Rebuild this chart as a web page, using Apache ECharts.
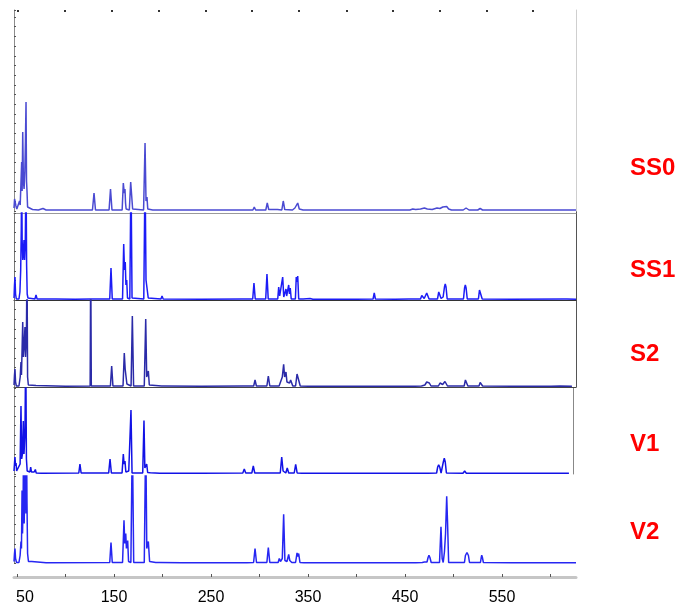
<!DOCTYPE html>
<html>
<head>
<meta charset="utf-8">
<script src="https://cdn.jsdelivr.net/npm/echarts@6/dist/echarts.min.js"></script>
<style>
html, body { margin: 0; padding: 0; background: #ffffff; }
#chart { width: 679px; height: 608px; }
</style>
</head>
<body>
<div id="chart"></div>
<script>
// Sample names shown at the right of each trace
const sampleNames = ['SS0', 'SS1', 'S2', 'V1', 'V2'];

// Retention axis ticks and labels
const xTickValues = [50, 100, 150, 200, 250, 300, 350, 400, 450, 500, 550, 600];
const xLabelValues = [50, 150, 250, 350, 450, 550];
// Tick dots along the top of the first trace
const topTickValues = [51.0, 99.5, 147.9, 196.4, 244.8, 292.3, 340.7, 390.2, 437.6, 486.1, 534.5, 581.9];

// Chromatogram traces: [retention, signal]
const ss0Trace = [
  [46.9, 3], [47.5, 12], [47.9, 14], [48.9, 5], [49.8, 2], [51.5, 2], [52.6, 10], [53.3, 6],
  [54.0, 26], [54.8, 49], [55.3, 20], [55.9, 79], [56.6, 30], [57.3, 22], [58.1, 40], [58.7, 70],
  [59.3, 109], [59.8, 30], [60.3, 20], [60.9, 4], [62.5, 2], [66, 1.5], [72, 1], [76.8, 2.5],
  [80, 1], [92, 1], [110, 1], [127.8, 1], [129.4, 18], [130.9, 1], [144.9, 1], [146.4, 22],
  [147.9, 1], [158.4, 1], [159.6, 28], [160.6, 18], [161.3, 22], [161.9, 8], [162.5, 2], [165.8, 1],
  [167.2, 29], [168.2, 28], [169.2, 2], [180.5, 1], [182.0, 68], [183.0, 10], [184.0, 14], [184.8, 2],
  [190, 1], [199.5, 1], [200.8, 2.5], [202, 1], [216, 1], [218, 2], [220, 1], [250, 1],
  [283.5, 1], [285.0, 2], [286.5, 1], [293.2, 1], [294.6, 4], [296, 1], [306.5, 1], [308.0, 8],
  [309.5, 1.5], [315.5, 1.5], [317.0, 3], [318.5, 1.5], [323, 1], [324.5, 10], [326, 1.5], [334, 1],
  [336.5, 3], [339.4, 8], [341, 2], [345, 1], [380, 1], [420, 1], [455, 1], [458, 2],
  [461, 1.5], [466, 2], [470, 3], [473, 2], [478, 1.5], [483, 3], [486, 2.5], [489, 4],
  [491, 3.5], [493, 4.5], [495, 2], [498, 1], [510, 1], [513, 3], [516, 1], [525, 1],
  [527.5, 2.5], [530, 1], [560, 1], [600, 1], [626.3, 1]
];

const ss1Trace = [
  [46.9, 2], [47.4, 15], [47.9, 23], [48.5, 6], [49.3, 1], [52, 1], [53.0, 8], [53.8, 30],
  [54.4, 70], [54.8, 130], [55.3, 60], [55.9, 40], [56.5, 45], [57.2, 60], [57.8, 40], [58.5, 55],
  [59.3, 130], [59.9, 35], [60.5, 6], [61.3, 2], [63, 1], [68.5, 1], [69.6, 5], [70.7, 1],
  [90, 1], [110, 0.8], [126, 1], [145.6, 1], [146.9, 32], [148.2, 1], [158.8, 1], [160.0, 56],
  [160.8, 30], [161.6, 38], [162.3, 15], [163.1, 20], [163.9, 2], [166.3, 1], [167.5, 130], [168.6, 2],
  [180.7, 1], [182.0, 130], [183.0, 20], [184.3, 22], [185.3, 2], [198.4, 1], [199.5, 4], [200.7, 1],
  [240, 0.8], [282, 1], [283.0, 2], [284, 1], [293, 1], [294.3, 17], [295.6, 1], [306.4, 1],
  [307.7, 26], [309, 1], [318.8, 1], [319.8, 13], [320.8, 4], [322.8, 5], [323.9, 23], [325, 3],
  [326.4, 2], [327.3, 11], [328.0, 4], [330.1, 15], [330.9, 6], [331.7, 12], [332.7, 1], [337.0, 1],
  [337.9, 23], [338.6, 18], [339.4, 24], [340.4, 1], [345, 1], [352.1, 1.5], [355, 0.8], [400, 0.8],
  [417.1, 1], [418.3, 7], [419.5, 1], [440, 0.8], [454, 1], [455.2, 2], [456.2, 1], [457.0, 2],
  [458, 1], [466, 1], [467.3, 4.5], [467.8, 5.7], [468.4, 4.5], [469.8, 1.5], [471.3, 3], [472.4, 7],
  [473.0, 8.5], [473.6, 7], [474.8, 1], [483.5, 1], [484.8, 8], [485.4, 9.5], [486.0, 8], [487.2, 1.5],
  [489.3, 3], [490.7, 13], [491.5, 16], [492.3, 13], [493.5, 1], [510.3, 1], [511.4, 12], [512.2, 15],
  [513.0, 12], [514.2, 1], [525.7, 1], [526.8, 10], [527.6, 12], [528.4, 10], [529.6, 1], [560, 0.8],
  [613.8, 1], [615.3, 2], [616.8, 1], [626.3, 0.8]
];

const s2Trace = [
  [46.9, 2], [47.4, 12], [47.9, 18], [48.5, 5], [49.3, 1], [52, 1], [53.3, 10], [54.1, 25],
  [54.6, 12], [55.3, 40], [55.9, 65], [56.5, 30], [57.3, 40], [58.2, 60], [58.8, 30], [59.7, 50],
  [60.3, 130], [60.9, 10], [61.7, 2], [63, 1], [69.6, 1.5], [71, 0.8], [100, 0.8], [125.4, 1],
  [126.0, 130], [126.6, 1], [146.3, 1], [147.6, 21], [148.9, 1], [159.3, 1], [160.6, 34], [161.5, 18],
  [162.4, 16], [163.3, 3], [167.6, 1], [168.9, 71], [170.2, 1], [181.2, 1], [182.7, 68], [183.7, 10],
  [185.4, 16], [186.4, 2], [199, 1], [200.2, 2], [201.4, 1], [240, 0.8], [283, 1], [284.0, 2],
  [285, 1], [294, 1], [295.4, 7], [296.8, 1], [307.6, 1], [309.1, 11], [310.6, 1], [320.2, 1],
  [321.1, 3], [322, 2], [323.5, 10], [324.9, 22.7], [325.9, 10], [327.3, 15], [328.3, 5], [330.1, 7],
  [331, 4], [332.1, 7], [333.2, 7], [334.3, 1], [337.2, 1], [338.7, 13], [339.4, 12], [340.7, 14],
  [342, 1], [350, 0.8], [418, 0.8], [419.1, 1.5], [420.2, 0.8], [458.2, 0.8], [459.3, 1.5], [460.4, 0.8],
  [467, 1], [468.9, 3], [470.5, 2], [472.4, 5], [473.6, 3], [475.1, 4], [476.8, 1], [484.5, 1],
  [486.1, 4], [487.5, 2], [488.8, 2.5], [491.2, 5.5], [491.9, 6], [492.6, 5.5], [493.8, 1], [511, 1],
  [512.3, 7], [512.9, 7.7], [513.5, 7], [514.8, 1], [526.3, 1], [527.5, 4.5], [528.0, 5], [528.6, 4.5],
  [530, 1], [560, 0.8], [600.5, 0.8], [601.5, 2], [602.5, 0.8], [609.8, 1], [611, 0.8], [622.1, 0.8]
];

const v1Trace = [
  [46.9, 3], [47.5, 12], [47.9, 17], [48.5, 8], [49.0, 11], [49.6, 3], [51, 1], [53.2, 10],
  [54.1, 68], [54.8, 15], [55.6, 20], [56.5, 53], [57.2, 20], [58.2, 40], [59.0, 130], [59.7, 15],
  [60.5, 3], [62, 1], [63.3, 2], [64.1, 7], [64.9, 2], [66.0, 1.5], [66.8, 4], [67.7, 2],
  [68.9, 4.5], [69.8, 1], [75, 0.8], [113.7, 1], [114.9, 10], [116.1, 1], [128.7, 1], [129.7, 1.5],
  [130.7, 1], [144.5, 1], [145.9, 15], [147.3, 1], [158.3, 1], [159.6, 20], [160.4, 10], [161.3, 13],
  [162.2, 2], [164.1, 1], [165.2, 3], [166.3, 1], [167.5, 64], [168.6, 1], [179.6, 1], [180.9, 53.6],
  [181.8, 6], [183.7, 10], [184.7, 1.5], [186.5, 0.8], [187.4, 1.2], [188.3, 0.8], [197.2, 0.8], [198.1, 1.2],
  [199, 0.8], [240, 0.8], [282.8, 1], [284.3, 5], [285.8, 1], [292.1, 1], [293.6, 8], [295.1, 1],
  [305, 1], [306.4, 3], [307.8, 1], [318.5, 1], [319.4, 1.5], [320.2, 1], [321.4, 1], [322.9, 17],
  [324.3, 3], [325.3, 1.5], [327.1, 1], [328.6, 6], [330.1, 1], [335.8, 1], [337.3, 9.7], [338.8, 1],
  [344, 0.8], [345.1, 2], [346.5, 0.8], [400, 0.8], [415.5, 0.8], [416.7, 1.2], [418, 0.8], [455.7, 0.8],
  [456.9, 2], [458.1, 0.8], [470.5, 0.8], [472.4, 2], [474, 0.8], [482.6, 1], [483.7, 7], [484.7, 9.3],
  [485.8, 7], [487.2, 1], [488.5, 1.5], [489.5, 12], [490.5, 15.7], [491.5, 12], [492.7, 1], [509.8, 0.8],
  [511.5, 3], [513.2, 0.8], [524.5, 0.8], [526.0, 1.7], [527.5, 0.8], [560, 0.8], [619.0, 0.8]
];

const v2Trace = [
  [46.9, 2], [47.4, 10], [47.9, 15], [48.5, 5], [49.5, 1], [52, 1], [53.2, 8], [54.1, 22],
  [54.6, 15], [55.2, 73], [55.7, 30], [56.3, 60], [56.8, 130], [57.4, 40], [58.0, 80], [58.6, 130],
  [59.2, 50], [59.8, 130], [60.3, 60], [60.9, 10], [61.8, 2], [63.5, 1], [65.2, 2], [66.5, 1],
  [80, 0.8], [145.6, 1], [146.9, 21], [148.2, 1], [158.8, 1], [160.3, 43.3], [161.1, 20], [162.1, 30],
  [162.8, 15], [164.1, 23], [165.0, 2], [167.4, 1], [168.9, 130], [170.3, 1], [181.2, 1], [182.7, 130],
  [183.8, 15], [185.4, 22], [186.7, 2], [193, 1], [194.0, 2], [195.0, 1], [196.7, 1], [197.6, 2],
  [198.5, 1], [220, 0.8], [284.5, 0.8], [285.7, 1.5], [287, 0.8], [293.9, 1], [295.4, 15], [296.9, 1],
  [307.6, 1], [309.1, 16], [310.6, 1], [319.2, 1], [320.4, 5], [321.6, 2], [323.5, 5], [324.9, 49.3],
  [326.2, 3], [327.5, 2], [328.3, 2], [330.1, 9], [331.2, 3], [332.1, 5], [333.3, 1], [337.2, 1],
  [338.7, 10.7], [339.5, 7], [340.4, 10], [341.7, 1], [345.8, 0.8], [346.9, 1.2], [348, 0.8], [400, 0.8],
  [458.3, 0.8], [459.6, 1.7], [461, 0.8], [467.8, 1], [468.9, 2.7], [470, 1.5], [472.7, 1.5], [473.8, 6],
  [474.7, 8.3], [475.7, 6], [477, 1], [485.6, 1], [487.1, 36.7], [488.3, 5], [489.4, 1], [490.7, 12],
  [491.8, 30], [493.0, 67.3], [493.9, 40], [495.0, 1], [511.3, 1], [512.3, 8], [513.9, 11], [515.4, 8],
  [516.5, 1], [527.8, 1], [528.6, 6], [529.1, 8.3], [529.8, 6], [530.8, 1], [560, 0.8], [610.3, 0.8],
  [611.5, 1.5], [612.7, 0.8], [626.3, 0.8]
];

const traces = [ss0Trace, ss1Trace, s2Trace, v1Trace, v2Trace];
const traceColors = ['#4a4ad2', '#1c1cf6', '#2b2ba8', '#1212e6', '#2626f2'];

// Panel layout (one grid per sample, plus one for the shared retention axis)
const panels = [
  { top: 10,  height: 201,  width: 562, xMax: 626.3, leftLine: '#8c8c8c', rightLine: '#cfcfcf', topLine: null,     bottomLine: null },
  { top: 213, height: 87,   width: 562, xMax: 626.3, leftLine: '#777777', rightLine: '#555555', topLine: '#9a9a9a', bottomLine: '#333333' },
  { top: 300, height: 87,   width: 562, xMax: 626.3, leftLine: '#777777', rightLine: '#555555', topLine: null,     bottomLine: '#444444' },
  { top: 388, height: 86,   width: 559, xMax: 623.2, leftLine: '#888888', rightLine: '#888888', topLine: null,     bottomLine: null },
  { top: 476, height: 87.5, width: 562, xMax: 626.3, leftLine: '#888888', rightLine: null,      topLine: null,     bottomLine: null }
];
const labelCenters = [168, 270, 354, 444, 532];
const xMin = 46.9;

const grid = [];
const xAxis = [];
const yAxis = [];
const series = [];

panels.forEach((p, i) => {
  grid.push({ left: 14, top: p.top, width: p.width, height: p.height, containLabel: false });

  xAxis.push({
    type: 'value', gridIndex: i, min: xMin, max: p.xMax, position: 'bottom',
    axisLine: { show: !!p.bottomLine, onZero: false, lineStyle: { color: p.bottomLine || '#000', width: 1 } },
    axisTick: { show: false }, axisLabel: { show: false }, splitLine: { show: false }
  });
  const topAxis = {
    type: 'value', gridIndex: i, min: xMin, max: p.xMax, position: 'top',
    axisLine: { show: !!p.topLine, onZero: false, lineStyle: { color: p.topLine || '#000', width: 1 } },
    axisTick: { show: false }, axisLabel: { show: false }, splitLine: { show: false }
  };
  if (i === 0) {
    topAxis.axisTick = { show: true, inside: true, length: 2, customValues: topTickValues,
      lineStyle: { color: '#333333', width: 2 } };
  }
  xAxis.push(topAxis);

  yAxis.push({
    type: 'value', gridIndex: i, min: 0, max: p.height, interval: 9.7, position: 'left',
    axisLine: { show: true, onZero: false, lineStyle: { color: p.leftLine, width: 1 } },
    axisTick: { show: true, inside: true, length: 2, lineStyle: { color: '#555555', width: 1 } },
    axisLabel: { show: false }, splitLine: { show: false }
  });
  yAxis.push({
    type: 'value', gridIndex: i, min: 0, max: p.height, position: 'right',
    axisLine: { show: !!p.rightLine, onZero: false, lineStyle: { color: p.rightLine || '#000', width: 1 } },
    axisTick: { show: false }, axisLabel: { show: false }, splitLine: { show: false }
  });

  series.push({
    name: sampleNames[i], type: 'line',
    xAxisIndex: i * 2, yAxisIndex: i * 2,
    data: traces[i], showSymbol: false, symbol: 'none', smooth: false, clip: true,
    lineStyle: { color: traceColors[i], width: 1.5 },
    silent: true, animation: false
  });
});

// Shared retention axis underneath all traces
const axisGrid = panels.length;
grid.push({ left: 14, top: 576, width: 562, height: 1 });
xAxis.push({
  type: 'value', gridIndex: axisGrid, min: xMin, max: 626.3, position: 'bottom',
  axisLine: { show: true, onZero: false, lineStyle: { color: '#c6c6c6', width: 3 } },
  axisTick: { show: true, inside: true, length: 3, customValues: xTickValues,
    lineStyle: { color: '#555555', width: 1 } },
  axisLabel: {
    show: true, customValues: xLabelValues, margin: 13,
    color: '#000000', fontSize: 16, fontFamily: '"Liberation Sans", Arial, sans-serif',
    formatter: (v) => (v === xLabelValues[0] ? '{first|' + v + '}' : String(v)),
    rich: { first: { padding: [0, 0, 0, 16], fontSize: 16, color: '#000000',
      fontFamily: '"Liberation Sans", Arial, sans-serif' } }
  },
  splitLine: { show: false }
});
yAxis.push({ type: 'value', gridIndex: axisGrid, show: false, min: 0, max: 1 });

const graphic = [
  // darker lower section of the first trace's right frame
  { type: 'line', shape: { x1: 576.5, y1: 97, x2: 576.5, y2: 213 },
    style: { stroke: '#555555', lineWidth: 1 }, silent: true }
];
sampleNames.forEach((name, i) => {
  graphic.push({
    type: 'text', x: 630, y: labelCenters[i], silent: true,
    style: { text: name, fill: '#ff0000', font: 'bold 24px "Liberation Sans", Arial, sans-serif',
      verticalAlign: 'middle', align: 'left' }
  });
});

const chart = echarts.init(document.getElementById('chart'), null, { renderer: 'canvas' });
chart.setOption({
  backgroundColor: '#ffffff',
  animation: false,
  grid, xAxis, yAxis, series, graphic
});
</script>
</body>
</html>
